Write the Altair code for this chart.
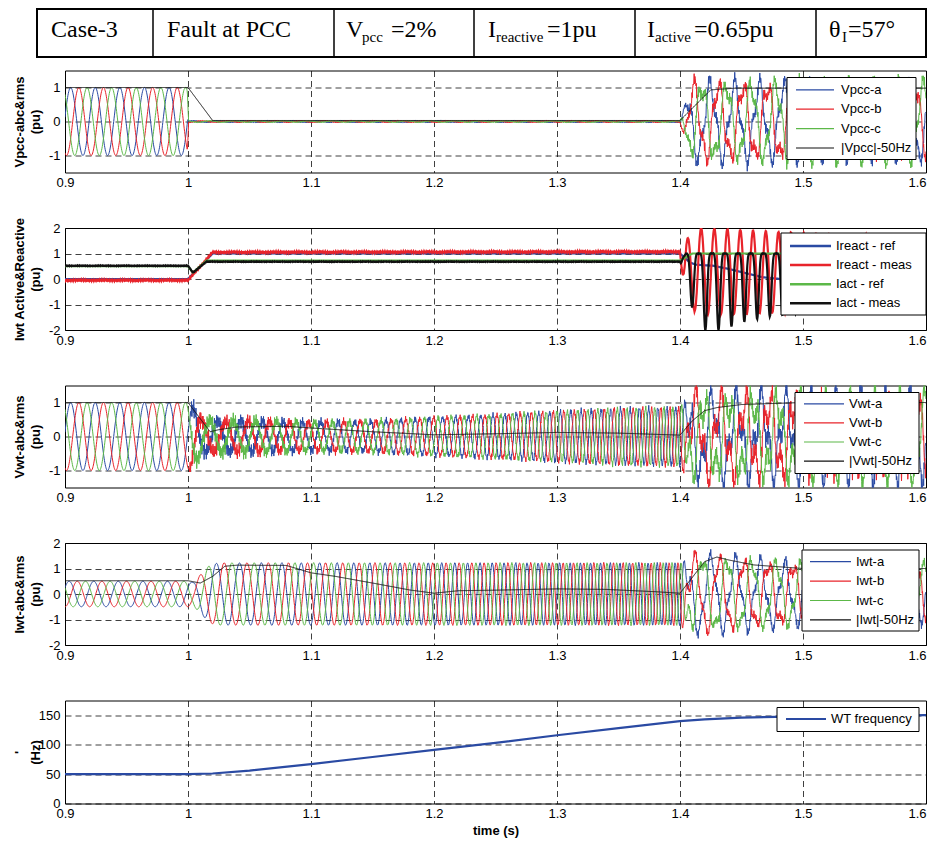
import numpy as np
import pandas as pd
import altair as alt

# ================= values =================
x_ticks = [0.9, 1.0, 1.1, 1.2, 1.3, 1.4, 1.5, 1.6]

# header table (text pieces; 1 = subscript)
header_text = ["Case-3", "Fault at PCC", "V", "pcc", "=2%", "I", "reactive", "=1pu",
               "I", "active", "=0.65pu", "θ", "I", "=57°"]
header_is_sub = [0, 0, 0, 1, 0, 0, 1, 0, 0, 1, 0, 0, 1, 0]

# WT frequency (Hz)
freq_t = [0.90, 1.00, 1.02, 1.05, 1.10, 1.15, 1.20, 1.25, 1.30, 1.35, 1.40, 1.42, 1.45, 1.50, 1.55, 1.60]
freq_hz = [50, 50, 51, 56, 67, 79, 91, 103, 116, 128, 140, 143, 146, 148, 149, 150]

# Vpcc panel
vpcc_names = ["Vpcc-a", "Vpcc-b", "Vpcc-c", "|Vpcc|-50Hz"]
vpcc_grid_t = [0.90, 0.9995, 1.0005, 1.40, 1.41, 1.60]
vpcc_grid_a = [1.00, 1.00, 0.02, 0.02, 1.02, 1.02]
vpcc_wt_t = [0.90, 1.40, 1.41, 1.60]
vpcc_wt_a = [0.00, 0.00, 0.28, 0.28]
vpcc_noise_t = [0.90, 1.00, 1.001, 1.40, 1.41, 1.60]
vpcc_noise_a = [0.00, 0.00, 0.015, 0.015, 0.12, 0.12]
vpcc_rms_t = [0.90, 1.00, 1.02, 1.40, 1.425, 1.445, 1.60]
vpcc_rms = [1.00, 1.00, 0.03, 0.03, 0.93, 0.98, 0.98]

# Iwt active / reactive panel
ipq_names = ["Ireact - ref", "Ireact - meas", "Iact - ref", "Iact - meas"]
iq_ref_t = [0.90, 1.00, 1.02, 1.40, 1.408, 1.413, 1.427, 1.44, 1.456, 1.467, 1.482, 1.60]
iq_ref = [0.00, 0.00, 1.00, 1.00, 0.65, 0.56, 0.52, 0.39, 0.20, 0.07, 0.00, -0.70]
iq_base_t = [0.90, 1.00, 1.02, 1.40, 1.404, 1.60]
iq_base = [-0.05, -0.05, 1.05, 1.07, 0.30, 0.20]
iq_osc_t = [0.90, 1.40, 1.404, 1.415, 1.45, 1.50, 1.60]
iq_osc = [0.00, 0.00, 1.20, 1.70, 1.65, 1.55, 1.40]
ip_ref_t = [0.90, 1.00, 1.004, 1.015, 1.40, 1.41, 1.60]
ip_ref = [0.50, 0.50, 0.25, 0.72, 0.72, 1.00, 1.00]
ip_base_t = [0.90, 1.00, 1.004, 1.015, 1.40, 1.405, 1.60]
ip_base = [0.52, 0.52, 0.25, 0.68, 0.68, 1.00, 1.00]
ip_dip_t = [0.90, 1.40, 1.405, 1.41, 1.418, 1.435, 1.45, 1.47, 1.50, 1.60]
ip_dip = [0.00, 0.00, 1.90, 2.10, 3.00, 3.00, 2.70, 2.50, 2.30, 2.00]
iq_first_peak = 1.4063
ip_first_dip = 1.4098

# Vwt panel
vwt_names = ["Vwt-a", "Vwt-b", "Vwt-c", "|Vwt|-50Hz"]
vwt_wt_t = [0.90, 1.000, 1.004, 1.012, 1.05, 1.10, 1.15, 1.20, 1.25, 1.30, 1.35, 1.40, 1.41, 1.60]
vwt_wt_a = [1.00, 1.00, 0.85, 0.45, 0.46, 0.42, 0.45, 0.55, 0.63, 0.73, 0.82, 0.85, 0.50, 0.50]
vwt_grid_t = [0.90, 1.40, 1.41, 1.60]
vwt_grid_a = [0.00, 0.00, 1.00, 1.00]
vwt_noise_t = [0.90, 1.000, 1.003, 1.10, 1.20, 1.40, 1.41, 1.60]
vwt_noise_a = [0.00, 0.00, 0.20, 0.10, 0.06, 0.06, 0.20, 0.20]
vwt_rms_t = [0.90, 1.00, 1.018, 1.025, 1.04, 1.08, 1.10, 1.15, 1.20, 1.25, 1.30, 1.35, 1.40, 1.41, 1.42, 1.43, 1.45, 1.50, 1.60]
vwt_rms = [1.00, 1.00, 0.14, 0.20, 0.28, 0.30, 0.25, 0.14, 0.05, 0.08, 0.12, 0.10, 0.04, 0.46, 0.76, 0.85, 0.94, 1.00, 1.00]

# Iwt panel
iwt_names = ["Iwt-a", "Iwt-b", "Iwt-c", "|Iwt|-50Hz"]
iwt_wt_t = [0.90, 1.000, 1.004, 1.010, 1.018, 1.025, 1.40, 1.41, 1.60]
iwt_wt_a = [0.50, 0.50, 0.45, 0.75, 1.15, 1.22, 1.22, 0.30, 0.30]
iwt_grid_t = [0.90, 1.40, 1.41, 1.45, 1.50, 1.60]
iwt_grid_a = [0.00, 0.00, 1.40, 1.25, 1.05, 1.00]
iwt_noise_t = [0.90, 1.40, 1.41, 1.60]
iwt_noise_a = [0.00, 0.02, 0.12, 0.12]
iwt_rms_t = [0.90, 1.00, 1.01, 1.02, 1.03, 1.04, 1.08, 1.10, 1.12, 1.15, 1.18, 1.20, 1.22, 1.25, 1.30, 1.34,
             1.38, 1.40, 1.42, 1.43, 1.44, 1.46, 1.50, 1.60]
iwt_rms = [0.52, 0.52, 0.43, 0.69, 1.09, 1.13, 1.12, 0.83, 0.69, 0.43, 0.16, 0.03, 0.13, 0.15, 0.20, 0.18,
           0.09, 0.03, 1.27, 1.45, 1.33, 1.14, 1.00, 1.00]

freq_names = ["WT frequency"]

# ================= build traces from the read values =================
dt = 0.0003
t = np.round(np.arange(0.9, 1.6 + dt / 2, dt), 5)


def E(tt, vv):
    return np.interp(t, tt, vv)


f = E(freq_t, freq_hz)
th_wt = 2 * np.pi * np.concatenate([[0.0], np.cumsum((f[1:] + f[:-1]) / 2 * np.diff(t))])
th_g = 2 * np.pi * 50 * (t - 0.9)
beat = th_wt - th_g
SHIFT = [0.0, -2 * np.pi / 3, 2 * np.pi / 3]
V0 = 2 * np.pi * 50 * 0.0046
I0 = np.pi / 3


def hf(k, amp):
    return amp * (np.sin(2 * np.pi * 1130 * t + 2.1 * k) + 0.5 * np.sin(2 * np.pi * 1730 * t + 1.3 * k + 0.7))


def wide(names, cols):
    d = {"t": t}
    for n, c in zip(names, cols):
        d[n] = np.round(c, 3)
    return pd.DataFrame(d)


vpcc_cols = [E(vpcc_grid_t, vpcc_grid_a) * np.cos(th_g - V0 + SHIFT[k])
             + E(vpcc_wt_t, vpcc_wt_a) * np.cos(th_wt - V0 + SHIFT[k] + 0.8)
             + hf(k, E(vpcc_noise_t, vpcc_noise_a)) for k in range(3)]
vpcc_cols.append(E(vpcc_rms_t, vpcc_rms))
df1 = wide(vpcc_names, vpcc_cols)

ph_q = np.interp(iq_first_peak, t, beat)
ph_p = np.interp(ip_first_dip, t, beat)
ipq_cols = [
    E(iq_ref_t, iq_ref),
    E(iq_base_t, iq_base) + E(iq_osc_t, iq_osc) * np.cos(beat - ph_q) + hf(1, 0.015),
    E(ip_ref_t, ip_ref),
    E(ip_base_t, ip_base) - E(ip_dip_t, ip_dip) * ((1 + np.cos(beat - ph_p)) / 2) ** 3 + hf(2, 0.007),
]
df2 = wide(ipq_names, ipq_cols)

vwt_cols = [E(vwt_wt_t, vwt_wt_a) * np.cos(th_wt - V0 + SHIFT[k])
            + E(vwt_grid_t, vwt_grid_a) * np.cos(th_g - V0 + SHIFT[k] - 0.5)
            + hf(k, E(vwt_noise_t, vwt_noise_a)) for k in range(3)]
vwt_cols.append(E(vwt_rms_t, vwt_rms))
df3 = wide(vwt_names, vwt_cols)

iwt_cols = [E(iwt_wt_t, iwt_wt_a) * np.cos(th_wt - I0 + SHIFT[k])
            + E(iwt_grid_t, iwt_grid_a) * np.cos(th_g - I0 + SHIFT[k] - 0.6)
            + hf(k, E(iwt_noise_t, iwt_noise_a)) for k in range(3)]
iwt_cols.append(E(iwt_rms_t, iwt_rms))
df4 = wide(iwt_names, iwt_cols)

df5 = pd.DataFrame({"t": freq_t, "WT frequency": freq_hz})

# ================= styling / layout =================
BLUE, RED, GREEN, BLACK = "#2a4aa3", "#e8242b", "#5cb848", "#111111"
PLOT_L = 64
W, H = 861, 102
MINUS = "replace(datum.label, '\u2212', '-')"


def legend_layers(names, colors, box, row0, drow, sx, lx, sw):
    layers = [alt.Chart(pd.DataFrame({"k": [0]})).mark_rect(fill="white", stroke="black", strokeWidth=1).encode(
        x=alt.value(box[0]), x2=alt.value(box[1]), y=alt.value(box[2]), y2=alt.value(box[3]))]
    for i, (n, c) in enumerate(zip(names, colors)):
        yy = row0 + i * drow
        d = pd.DataFrame({"name": [n]})
        layers.append(alt.Chart(d).mark_rule(stroke=c, strokeWidth=sw).encode(
            x=alt.value(sx[0]), x2=alt.value(sx[1]), y=alt.value(yy)))
        layers.append(alt.Chart(d).mark_text(align="left", baseline="middle", font="Liberation Sans",
                                             fontSize=13, color="black").encode(
            x=alt.value(lx), y=alt.value(yy), text="name:N"))
    return layers


def panel(df, names, colors, ydom, yticks, ytitle, leg, sw, xtitle=None, h=H):
    xax = alt.Axis(values=x_ticks, format="~g", labelFlush=False, labelPadding=4,
                   labelAlign={"expr": "datum.value > 1.55 ? 'right' : 'center'"},
                   title=xtitle, titlePadding=4)
    yax = alt.Axis(values=yticks, title=ytitle, minExtent=21, maxExtent=21, titlePadding=2,
                   labelPadding=5, titleLineHeight=16, labelExpr=MINUS)
    lines = alt.Chart(df).transform_fold(names, as_=["series", "value"]).mark_line(
        clip=True, strokeWidth=sw).encode(
        x=alt.X("t:Q", scale=alt.Scale(domain=[0.9, 1.6], nice=False, zero=False), axis=xax),
        y=alt.Y("value:Q", scale=alt.Scale(domain=ydom, nice=False, zero=False), axis=yax),
        color=alt.Color("series:N", scale=alt.Scale(domain=names, range=colors), legend=None),
    )
    return alt.layer(lines, *legend_layers(names, colors, *leg)).properties(width=W, height=h)


p1 = panel(df1, vpcc_names, [BLUE, RED, GREEN, BLACK], [-1.5, 1.5], [-1, 0, 1],
           ["Vpcc-abc&rms", "(pu)"], ((722, 851, 7, 89), 19.3, 19.4, (731, 769), 776, 1.2), 1)
p2 = panel(df2, ipq_names, [BLUE, RED, GREEN, BLACK], [-2, 2], [-2, -1, 0, 1, 2],
           ["Iwt Active&Reactive", "(pu)"], ((716, 861, 5, 87), 18, 19.1, (725, 766), 771, 2.5), 2.2)
p3 = panel(df3, vwt_names, [BLUE, RED, GREEN, BLACK], [-1.5, 1.5], [-1, 0, 1],
           ["Vwt-abc&rms", "(pu)"], ((730, 854, 7, 88), 18.3, 19.1, (739, 779), 784, 1.2), 1)
p4 = panel(df4, iwt_names, [BLUE, RED, GREEN, BLACK], [-2, 2], [-2, -1, 0, 1, 2],
           ["Iwt-abc&rms", "(pu)"], ((737, 854, 7, 88), 18.7, 19.4, (745, 786), 791, 1.2), 1)
p5 = panel(df5, freq_names, [BLUE], [0, 175], [0, 50, 100, 150],
           ["'", "(Hz)"], ((712, 854, 7, 31), 18.5, 0, (721, 761), 766, 2.2), 2.2,
           xtitle="time (s)", h=103)

# ---- header table ----
hx_page = [50, 166, 345, 361, 390, 487, 495, 546, 646, 654, 693, 828, 841, 847]
hdf = pd.DataFrame({
    "txt": header_text,
    "px": [x - PLOT_L for x in hx_page],
    "py": [33 if s else 28 for s in header_is_sub],
    "fs": [15 if s else 24 for s in header_is_sub],
})
vl_page = [36, 152, 333, 473, 634, 815, 925]
vdf = pd.DataFrame({"px": [x - PLOT_L for x in vl_page]})
box = alt.Chart(pd.DataFrame({"k": [0]})).mark_rect(fill="white", stroke="black", strokeWidth=2).encode(
    x=alt.value(vl_page[0] - PLOT_L), x2=alt.value(vl_page[-1] - PLOT_L), y=alt.value(0), y2=alt.value(48))
seps = alt.Chart(vdf).mark_rule(stroke="black", strokeWidth=1.5).encode(
    x=alt.X("px:Q", scale=None), y=alt.value(0), y2=alt.value(48))
htxt = alt.Chart(hdf).mark_text(align="left", baseline="alphabetic", font="Liberation Serif",
                                color="black").encode(
    x=alt.X("px:Q", scale=None), y=alt.Y("py:Q", scale=None),
    size=alt.Size("fs:Q", scale=None), text="txt:N")
header = alt.layer(box, seps, htxt).properties(width=W, height=5.5,
                                               view=alt.ViewBackground(strokeOpacity=0))

chart = alt.vconcat(header, p1, p2, p3, p4, p5, spacing=55.5, bounds="flush").resolve_scale(
    x="independent", y="independent", color="independent"
).properties(padding={"left": 4, "top": 0, "right": 0, "bottom": 0}).configure_view(
    stroke="black", strokeWidth=1
).configure_axis(
    labelFont="Liberation Sans", labelFontSize=13, labelColor="black",
    titleFont="Liberation Sans", titleFontSize=13, titleFontWeight="bold", titleColor="black",
    ticks=False, domain=False, grid=True, gridColor="black", gridDash=[6, 4], gridOpacity=0.75,
    gridWidth=1,
)

chart.save("out.html", embed_options={"renderer": "svg", "actions": False})
